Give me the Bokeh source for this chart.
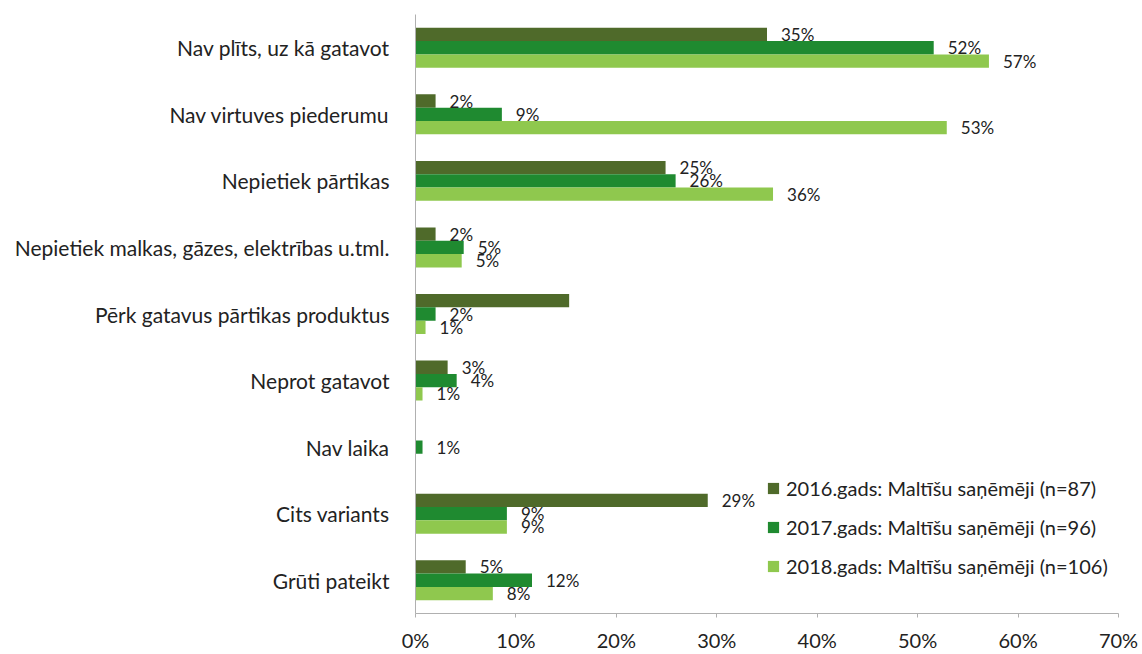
from bokeh.plotting import figure
from bokeh.models import ColumnDataSource, FactorRange, FixedTicker, PrintfTickFormatter, Legend, LegendItem, LabelSet
from bokeh.core.properties import value
from bokeh.transform import dodge
from bokeh.embed import file_html
from bokeh.resources import INLINE

categories = [
    "Nav plīts, uz kā gatavot",
    "Nav virtuves piederumu",
    "Nepietiek pārtikas",
    "Nepietiek malkas, gāzes, elektrības u.tml.",
    "Pērk gatavus pārtikas produktus",
    "Neprot gatavot",
    "Nav laika",
    "Cits variants",
    "Grūti pateikt",
]
v2016 = [35.0, 2.0, 24.9, 2.0, 15.3, 3.2, 0.0, 29.1, 5.0]
v2017 = [51.6, 8.6, 25.9, 4.8, 2.0, 4.1, 0.7, 9.1, 11.6]
v2018 = [57.1, 52.9, 35.6, 4.6, 1.0, 0.7, 0.0, 9.1, 7.7]
l2016 = ["35%", "2%", "25%", "2%", "", "3%", "", "29%", "5%"]
l2017 = ["52%", "9%", "26%", "5%", "2%", "4%", "1%", "9%", "12%"]
l2018 = ["57%", "53%", "36%", "5%", "1%", "1%", "", "9%", "8%"]
series_names = [
    "2016.gads: Maltīšu saņēmēji (n=87)",
    "2017.gads: Maltīšu saņēmēji (n=96)",
    "2018.gads: Maltīšu saņēmēji (n=106)",
]
x_ticks = [0, 10, 20, 30, 40, 50, 60, 70]

colors = ["#4f6a2a", "#1f8a30", "#8fc84e"]
offsets = [0.2, 0.0, -0.2]
FONT = "Lato"
TXT = "#222222"

src = ColumnDataSource(dict(cat=categories, v2016=v2016, v2017=v2017, v2018=v2018,
                            l2016=l2016, l2017=l2017, l2018=l2018))

p = figure(y_range=FactorRange(*reversed(categories)), x_range=(0, 70),
           frame_width=703, frame_height=599,
           min_border_left=415, min_border_right=20, min_border_top=14, min_border_bottom=39,
           output_backend="svg", toolbar_location=None)

items = []
for key, lab, col, off, name in zip(["v2016", "v2017", "v2018"], ["l2016", "l2017", "l2018"],
                                     colors, offsets, series_names):
    r = p.hbar(y=dodge("cat", off, range=p.y_range), right=key, left=0, height=0.2,
               source=src, fill_color=col, line_color=None)
    items.append(LegendItem(label=name, renderers=[r]))
    labels = LabelSet(x=key, y=dodge("cat", off, range=p.y_range), text=lab, source=src,
                      x_offset=14, y_offset=0, text_baseline="middle", text_align="left",
                      text_font=value(FONT), text_font_size="17px", text_color=TXT)
    p.add_layout(labels)

legend = Legend(items=items, location=(351, 35), padding=0, margin=0,
                spacing=15, label_height=24, glyph_height=14, glyph_width=14,
                label_standoff=6, label_text_font=FONT, label_text_font_size="20px",
                label_text_color=TXT, background_fill_alpha=0, border_line_color=None)
p.add_layout(legend)

p.xaxis.ticker = FixedTicker(ticks=x_ticks)
p.xaxis.formatter = PrintfTickFormatter(format="%d%%")
p.xaxis.major_label_text_font = FONT
p.xaxis.major_label_text_font_size = "20px"
p.xaxis.major_label_text_color = TXT
p.xaxis.major_label_standoff = 10
p.xaxis.axis_line_color = "#b0b0b0"
p.xaxis.major_tick_line_color = "#b0b0b0"
p.xaxis.major_tick_out = 4
p.xaxis.major_tick_in = 0
p.xaxis.minor_tick_line_color = None

p.yaxis.major_label_text_font = FONT
p.yaxis.major_label_text_font_size = "21px"
p.yaxis.major_label_text_color = TXT
p.yaxis.major_label_standoff = 20
p.yaxis.axis_line_color = "#b0b0b0"
p.yaxis.major_tick_line_color = None
p.yaxis.minor_tick_line_color = None

p.xgrid.grid_line_color = None
p.ygrid.grid_line_color = None
p.outline_line_color = None
p.y_range.range_padding = 0

open("out.html", "w").write(file_html(p, INLINE))
